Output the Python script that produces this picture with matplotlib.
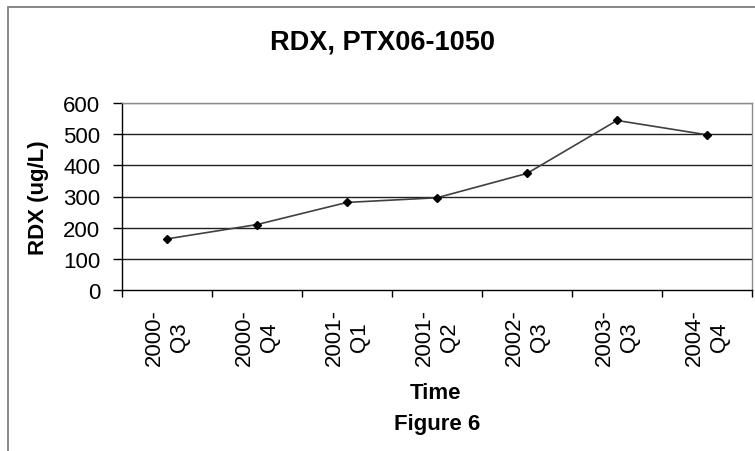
import matplotlib
matplotlib.use("Agg")
import matplotlib.pyplot as plt
from matplotlib.patches import Rectangle

categories = ["2000-\nQ3", "2000-\nQ4", "2001-\nQ1", "2001-\nQ2", "2002-\nQ3", "2003-\nQ3", "2004-\nQ4"]
rdx_values = [164, 210, 281, 296, 374, 544, 498]
y_ticks = [0, 100, 200, 300, 400, 500, 600]

plt.rcParams['font.family'] = ['Liberation Sans', 'DejaVu Sans']

W, H = 755, 452
fig = plt.figure(figsize=(W / 100, H / 100), dpi=100)
fig.patch.set_facecolor('white')

# outer chart border
fig.patches.append(Rectangle((8 / W, -0.05), 1.2, 1 - 8 / H + 0.05, transform=fig.transFigure,
                             fill=False, edgecolor='#7f7f7f', linewidth=1.3))

left, right, top, bottom = 122, 752, 104, 291
ax = fig.add_axes([left / W, 1 - bottom / H, (right - left) / W, (bottom - top) / H])

x = list(range(len(categories)))
ax.plot(x, rdx_values, color='#404040', linewidth=1.2, marker='D', markersize=4.5,
        markerfacecolor='black', markeredgecolor='black', zorder=3)

ax.set_xlim(-0.5, len(categories) - 0.5)
ax.set_ylim(0, 600)
ax.set_yticks(y_ticks)
ax.set_yticklabels([str(v) for v in y_ticks], fontsize=16)
for v in y_ticks[1:]:
    ax.axhline(v, color='#8a8a8a' if v == 600 else '#202020', linewidth=1.0, zorder=1)

ax.set_xticks([i - 0.5 for i in range(len(categories) + 1)])
ax.set_xticklabels([])
ax.set_xticks(x, minor=True)
ax.set_xticklabels(categories, minor=True, rotation=90, fontsize=16, linespacing=1.25,
                   multialignment='center')
ax.tick_params(axis='x', which='minor', length=0, pad=13)
ax.tick_params(axis='x', which='major', length=5, width=1, color='black', direction='out')
ax.tick_params(axis='y', length=6.5, width=1, direction='out', pad=9)

for s in ['top', 'right']:
    ax.spines[s].set_color('#8a8a8a')
    ax.spines[s].set_linewidth(1.0)
for s in ['left', 'bottom']:
    ax.spines[s].set_color('black')
    ax.spines[s].set_linewidth(1.0)

ax.set_ylabel("RDX (ug/L)", fontsize=16, fontweight='bold')
ax.yaxis.set_label_coords((49 - left) / (right - left), 0.5)

fig.text(382 / W, 1 - 42 / H, "RDX, PTX06-1050", ha='center', va='center', fontsize=19.5, fontweight='bold')
fig.text(436 / W, 1 - 394 / H, "Time", ha='center', va='center', fontsize=16, fontweight='bold')
fig.text(437 / W, 1 - 425 / H, "Figure 6", ha='center', va='center', fontsize=16, fontweight='bold')

fig.savefig("out.png", dpi=100)
